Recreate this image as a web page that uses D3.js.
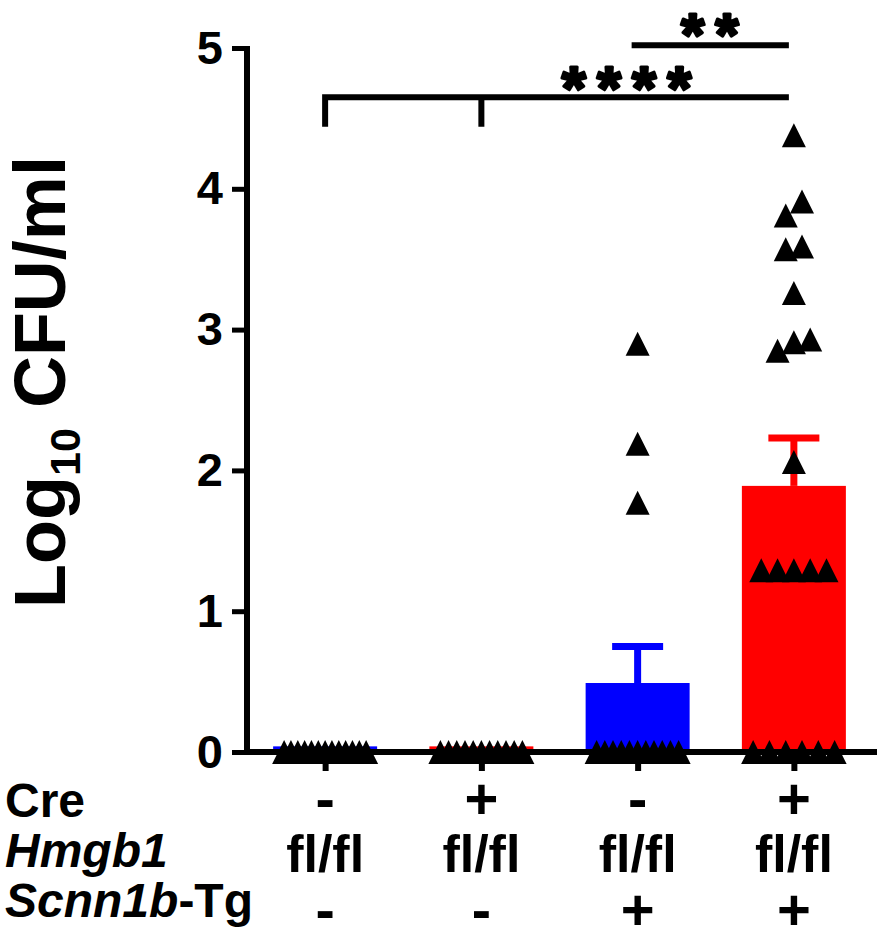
<!DOCTYPE html>
<html>
<head>
<meta charset="utf-8">
<title>Log10 CFU/ml by genotype</title>
<style>
  body { margin: 0; background: #fff; }
  svg { display: block; }
  text { font-family: "Liberation Sans", Arial, sans-serif; font-weight: bold; fill: #000; }
</style>
<script src="https://d3js.org/d3.v7.min.js"></script>
</head>
<body>
<svg id="chart" width="886" height="946"></svg>
<script>
// groups, left to right
const groups = ["g1", "g2", "g3", "g4"];
const creRow = ["-", "+", "-", "+"];
const hmgb1Row = ["fl/fl", "fl/fl", "fl/fl", "fl/fl"];
const scnn1bRow = ["-", "-", "+", "+"];

// bar heights (mean) and upper error (SEM), Log10 CFU/ml
const means = [0.04, 0.04, 0.49, 1.89];
const sems = [0, 0, 0.26, 0.34];

// individual animals
const points1 = [0, 0, 0, 0, 0, 0, 0, 0, 0, 0, 0, 0, 0];
const points2 = [0, 0, 0, 0, 0, 0, 0, 0, 0, 0, 0];
const points3 = [2.90, 2.19, 1.77, 0, 0, 0, 0, 0, 0, 0, 0, 0, 0, 0];
const points4 = [4.38, 3.91, 3.81, 3.59, 3.57, 3.26, 2.93, 2.91, 2.85, 2.06,
                 1.29, 1.29, 1.29, 1.29, 1.29, 0, 0, 0, 0, 0, 0];

const yTicks = [0, 1, 2, 3, 4, 5];

// significance brackets
const sigFrom = [0, 2];
const sigTo = [3, 3];
const sigLabels = ["****", "**"];

const svg = d3.select("#chart");
const x = d3.scalePoint().domain(groups).range([247, 872]).padding(0.5);
const y = d3.scaleLinear().domain([0, 5]).range([752, 48]);
const colors = ["#0000ff", "#ff0000", "#0000ff", "#ff0000"];
const barW = 104, capW = 51;

// bars
svg.append("g").selectAll("rect").data(groups).join("rect")
  .attr("x", d => x(d) - barW / 2)
  .attr("width", barW)
  .attr("y", (d, i) => y(means[i]))
  .attr("height", (d, i) => y(0) - y(means[i]))
  .attr("fill", (d, i) => colors[i]);

// upper error bars
const err = svg.append("g");
groups.forEach((g, i) => {
  if (!sems[i]) return;
  const top = y(means[i] + sems[i]);
  err.append("line").attr("x1", x(g)).attr("x2", x(g))
    .attr("y1", y(means[i])).attr("y2", top)
    .attr("stroke", colors[i]).attr("stroke-width", 7);
  err.append("line").attr("x1", x(g) - capW / 2).attr("x2", x(g) + capW / 2)
    .attr("y1", top).attr("y2", top)
    .attr("stroke", colors[i]).attr("stroke-width", 7);
});

// y axis
const yAxis = svg.append("g").attr("transform", "translate(247,0)")
  .call(d3.axisLeft(y).tickValues(yTicks).tickFormat(d3.format("d"))
    .tickSize(15).tickPadding(9).tickSizeOuter(0));
yAxis.select(".domain").remove();
yAxis.append("line").attr("x1", 0).attr("x2", 0)
  .attr("y1", y(5) - 2).attr("y2", y(0) + 3)
  .attr("stroke", "#000").attr("stroke-width", 6);
yAxis.selectAll(".tick line").attr("stroke", "#000").attr("stroke-width", 5);
yAxis.selectAll(".tick text").style("font-size", "47px").attr("fill", "#000");

// x axis
const xAxis = svg.append("g").attr("transform", `translate(0,${y(0)})`)
  .call(d3.axisBottom(x).tickSize(19).tickFormat(""));
xAxis.select(".domain").remove();
xAxis.selectAll(".tick line").attr("stroke", "#000").attr("stroke-width", 6);
xAxis.append("line").attr("x1", 244).attr("x2", 877).attr("y1", 0).attr("y2", 0)
  .attr("stroke", "#000").attr("stroke-width", 6);

// scatter: identical / near values spread side by side
function spread(vals) {
  const sorted = vals.slice().sort((a, b) => a - b);
  const out = [];
  let cluster = [];
  const flush = () => {
    const n = cluster.length;
    const step = n > 1 ? Math.min(16.3, 82 / (n - 1)) : 0;
    cluster.forEach((v, k) => out.push({ v, dx: (k - (n - 1) / 2) * step }));
    cluster = [];
  };
  sorted.forEach(v => {
    if (cluster.length && v - cluster[cluster.length - 1] > 0.15) flush();
    cluster.push(v);
  });
  flush();
  return out;
}

const tri = {
  draw(ctx, size) {
    const h = Math.sqrt(size) / 2;
    ctx.moveTo(0, -h); ctx.lineTo(h, h); ctx.lineTo(-h, h); ctx.closePath();
  }
};
const sym = d3.symbol().type(tri).size(24 * 24);
const allPoints = [points1, points2, points3, points4];
const pts = svg.append("g");
groups.forEach((g, i) => {
  pts.selectAll(null).data(spread(allPoints[i])).join("path")
    .attr("d", sym)
    .attr("transform", d => `translate(${x(g) + d.dx},${y(d.v)})`)
    .attr("fill", "#000");
});

// significance
const levels = [4.65, 5.02];
const sig = svg.append("g").attr("fill", "none").attr("stroke", "#000").attr("stroke-width", 6);
// long bracket with drops at groups 1 and 2
sig.append("path").attr("d",
  `M${x(groups[sigFrom[0]])},${y(4.44)}V${y(levels[0])}H${x(groups[sigTo[0]]) - 5}` +
  `M${x(groups[1])},${y(levels[0])}V${y(4.44)}`);
sig.append("path").attr("d",
  `M${x(groups[sigFrom[1]]) - 6},${y(levels[1])}H${x(groups[sigTo[1]]) - 5}`);

const ls = 11;
svg.append("text")
  .attr("x", (x(groups[1]) + x(groups[3])) / 2 - 11 + ls / 2)
  .attr("y", y(levels[0]) + 12)
  .attr("text-anchor", "middle")
  .attr("stroke", "#000").attr("stroke-width", 3).attr("stroke-linejoin", "round")
  .style("font-size", "62px").style("letter-spacing", ls + "px")
  .text(sigLabels[0]);
svg.append("text")
  .attr("x", (x(groups[2]) + x(groups[3])) / 2 - 6 + ls / 2)
  .attr("y", y(levels[1]) + 10)
  .attr("text-anchor", "middle")
  .attr("stroke", "#000").attr("stroke-width", 3).attr("stroke-linejoin", "round")
  .style("font-size", "60px").style("letter-spacing", ls + "px")
  .text(sigLabels[1]);

// y label
const yl = svg.append("text")
  .attr("transform", "translate(65,382) rotate(-90)")
  .attr("text-anchor", "middle")
  .style("font-size", "72px");
yl.append("tspan").text("Log");
yl.append("tspan").attr("dy", 15).style("font-size", "43px").text("10");
yl.append("tspan").attr("dy", -15).text("\u00a0CFU/ml");

// genotype table under the axis
const rowNames = svg.append("g");
rowNames.append("text").attr("x", 5).attr("y", 817).style("font-size", "48px").text("Cre");
rowNames.append("text").attr("x", 5).attr("y", 867).style("font-size", "48px")
  .style("font-style", "italic").text("Hmgb1");
const sc = rowNames.append("text").attr("x", 5).attr("y", 917).style("font-size", "48px");
sc.append("tspan").style("font-style", "italic").text("Scnn1b");
sc.append("tspan").text("-Tg");

const cells = svg.append("g").attr("text-anchor", "middle");
cells.selectAll(".cre").data(groups).join("text").attr("class", "cre")
  .attr("x", d => x(d)).attr("y", 819).style("font-size", "58px")
  .text((d, i) => creRow[i]);
cells.selectAll(".hm").data(groups).join("text").attr("class", "hm")
  .attr("x", d => x(d)).attr("y", 872).style("font-size", "52px")
  .text((d, i) => hmgb1Row[i]);
cells.selectAll(".sc").data(groups).join("text").attr("class", "sc")
  .attr("x", d => x(d)).attr("y", 930).style("font-size", "58px")
  .text((d, i) => scnn1bRow[i]);
</script>
</body>
</html>
